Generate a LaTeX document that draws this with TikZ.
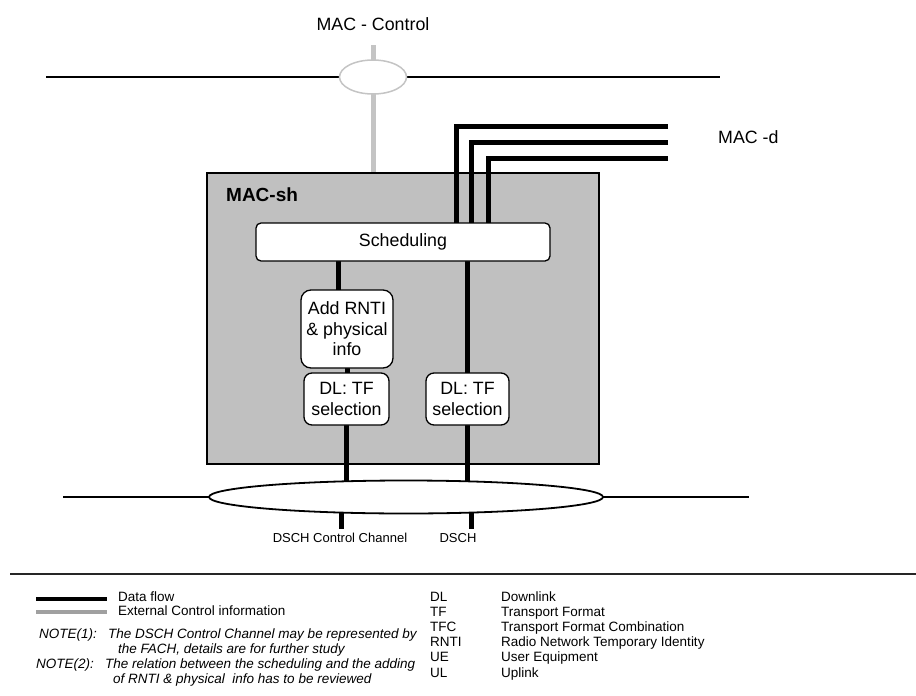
\documentclass[tikz,border=0pt]{standalone}
\usepackage{fontspec}
\setmainfont{Liberation Sans}
\usetikzlibrary{shapes.geometric}
\pgfdeclarelayer{bg}
\pgfdeclarelayer{lines}
\pgfsetlayers{bg,lines,main}
\definecolor{boxgray}{HTML}{C0C0C0}
\definecolor{ctrlgray}{HTML}{C4C4C4}
\definecolor{leggray}{HTML}{A0A0A0}
\tikzset{
  mainfont/.style={font=\fontsize{17.8}{20.5}\selectfont},
  labfont/.style={font=\fontsize{13}{15}\selectfont, inner sep=0pt},
  legfont/.style={font=\fontsize{13.5}{15}\selectfont, text height=0.72em, text depth=0.2em, inner sep=0pt, anchor=west},
  legit/.style={legfont, font=\fontsize{13.5}{15}\selectfont\itshape},
  procbox/.style={draw, line width=1.3pt, fill=white, rounded corners=#1, align=center, inner sep=0pt, mainfont},
  data/.style={line width=5pt},
  legline/.style={line width=4pt},
}
\begin{document}
\begin{tikzpicture}[x=1pt,y=-1pt]
\useasboundingbox (0,0) rectangle (916,696);

% MAC-sh box
\begin{pgfonlayer}{bg}
\node[draw, line width=1.2pt, fill=boxgray, minimum width=392pt, minimum height=291pt, inner sep=0pt] (macsh) at (403,318.5) {};
\end{pgfonlayer}
\node[font=\bfseries\fontsize{19}{22}\selectfont, anchor=west, inner sep=0pt] (mactitle) at (226,195) {MAC-sh};

% processing boxes
\node[procbox=5pt, minimum width=294pt, minimum height=38pt] (sched) at (403,242) {Scheduling};
\node[procbox=10pt, minimum width=92pt, minimum height=78pt] (addr) at (347,329) {Add RNTI\\ \& physical\\ info};
\node[procbox=8pt, minimum width=85pt, minimum height=52pt] (dla) at (346.5,399) {DL: TF\\ selection};
\node[procbox=8pt, minimum width=83pt, minimum height=52pt] (dlb) at (467.5,399) {DL: TF\\ selection};

% ellipses
\node[ellipse, draw=ctrlgray, line width=1.5pt, fill=white, minimum width=67pt, minimum height=34pt, inner sep=0pt] (ctrl) at (373,77) {};
\node[ellipse, draw, line width=1.8pt, fill=white, minimum width=394pt, minimum height=33pt, inner sep=0pt] (bell) at (406,497) {};

% texts
\node[mainfont] (mctl) at (373,24) {MAC - Control};
\node[mainfont, anchor=west, inner sep=0pt] (macd) at (718,137) {MAC -d};
\node[labfont] (lcc) at (340,538) {DSCH Control Channel};
\node[labfont] (ldsch) at (458,538) {DSCH};

% coordinates
\coordinate (tl) at (46,77);
\coordinate (tr) at (720,77);
\coordinate (bl) at (63,497);
\coordinate (br) at (749,497);
\coordinate (ctop) at (373,45);
\coordinate (md1) at (668,126);
\coordinate (md2) at (668,142);
\coordinate (md3) at (668,158);
\coordinate (c1) at (456,126);
\coordinate (c2) at (471.5,142);
\coordinate (c3) at (488,158);
\coordinate (xl) at (338,0);
\coordinate (xr) at (467.5,0);
\coordinate (sa) at (341,529);
\coordinate (sb) at (471,529);

\begin{pgfonlayer}{lines}
\draw[line width=2pt] (tl) -- (tr);
\draw[line width=1.8pt] (bl) -- (br);
\draw[ctrlgray, line width=5pt] (ctop) -- (ctop |- macsh.north);
\draw[data] (md1) -- (c1) -- (c1 |- sched.center);
\draw[data] (md2) -- (c2) -- (c2 |- sched.center);
\draw[data] (md3) -- (c3) -- (c3 |- sched.center);
\draw[data] (xl |- sched.center) -- (xl |- addr.center);
\draw[data] (addr.center) -- (addr.center |- dla.center);
\draw[data] (dla.center) -- (dla.center |- bell.center);
\draw[data] (xr |- sched.center) -- (xr |- bell.center);
\draw[data] (sa |- bell.center) -- (sa);
\draw[data] (sb |- bell.center) -- (sb);
\end{pgfonlayer}

% legend
\coordinate (sepl) at (10,574);
\coordinate (sepr) at (916,574);
\draw[line width=2pt, black!85] (sepl) -- (sepr);
\coordinate (lda) at (36,599);
\coordinate (ldb) at (107,599);
\coordinate (lga) at (36,612);
\coordinate (lgb) at (107,612);
\draw[legline] (lda) -- (ldb);
\draw[legline, leggray] (lga) -- (lgb);
\node[legfont] (tdf) at (118,599) {Data flow};
\node[legfont] (tec) at (118,613) {External Control information};

\node[legit] (n1a) at (39,636) {NOTE(1):};
\node[legit] (n1b) at (108,636) {The DSCH Control Channel may be represented by};
\node[legit] (n1c) at (118,651) {the FACH, details are for further study};
\node[legit] (n2a) at (36,666) {NOTE(2):};
\node[legit] (n2b) at (105,666) {The relation between the scheduling and the adding};
\node[legit] (n2c) at (113,681) {of RNTI \& physical\ \ info has to be reviewed};

\node[legfont] (a1) at (430,599) {DL};
\node[legfont] (a2) at (430,614) {TF};
\node[legfont] (a3) at (430,629) {TFC};
\node[legfont] (a4) at (430,644) {RNTI};
\node[legfont] (a5) at (430,659) {UE};
\node[legfont] (a6) at (430,675) {UL};
\node[legfont] (d1) at (501,599) {Downlink};
\node[legfont] (d2) at (501,614) {Transport Format};
\node[legfont] (d3) at (501,629) {Transport Format Combination};
\node[legfont] (d4) at (501,644) {Radio Network Temporary Identity};
\node[legfont] (d5) at (501,659) {User Equipment};
\node[legfont] (d6) at (501,675) {Uplink};
\end{tikzpicture}
\end{document}
